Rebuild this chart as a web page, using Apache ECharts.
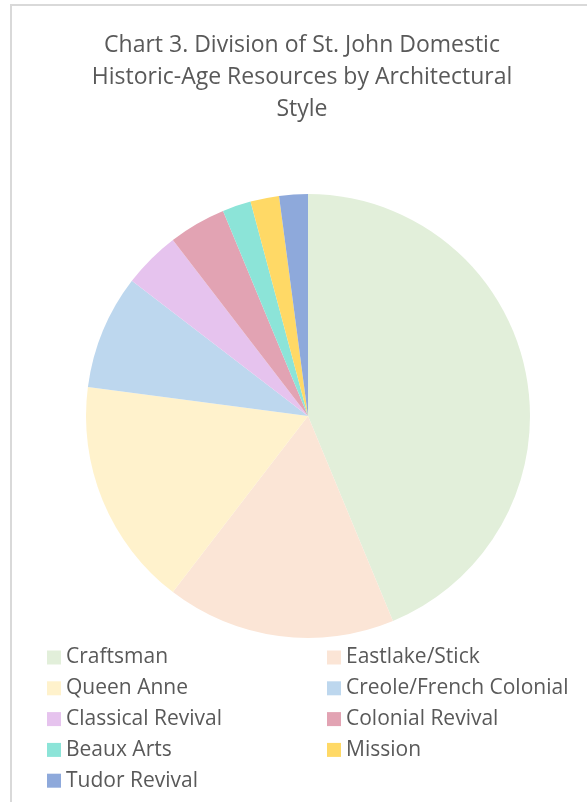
<!DOCTYPE html>
<html>
<head>
<meta charset="utf-8">
<script src="https://cdn.jsdelivr.net/npm/echarts@6/dist/echarts.min.js"></script>
<style>
  html, body { margin: 0; padding: 0; background: #fff; }
  #chart { width: 587px; height: 802px; }
</style>
</head>
<body>
<div id="chart"></div>
<script>
const styles = [
  'Craftsman', 'Eastlake/Stick', 'Queen Anne', 'Creole/French Colonial',
  'Classical Revival', 'Colonial Revival', 'Beaux Arts', 'Mission', 'Tudor Revival',
];
const counts = [21, 8, 8, 4, 2, 2, 1, 1, 1];
const colors = [
  '#E2EFDA', '#FBE5D6', '#FFF2CC', '#BDD7EE',
  '#E6C3EE', '#E2A3B3', '#8CE4D8', '#FFD966', '#8EA9DB',
];

// legend is two columns, filled row by row
const legendBase = {
  orient: 'vertical',
  top: 647,
  padding: 0,
  itemWidth: 14,
  itemHeight: 14,
  itemGap: 9.8,
  icon: 'rect',
  textStyle: {
    fontFamily: 'Open Sans',
    fontSize: 21,
    lineHeight: 19.5,
    color: '#595959',
  },
};

const chart = echarts.init(document.getElementById('chart'));
chart.setOption({
  animation: false,
  color: colors,
  title: {
    text: 'Chart 3. Division of St. John Domestic\nHistoric-Age Resources by Architectural\nStyle',
    left: 302,
    textAlign: 'center',
    top: 29,
    padding: 0,
    textStyle: {
      fontFamily: 'Open Sans',
      fontWeight: 'normal',
      fontSize: 23,
      lineHeight: 32,
      color: '#595959',
    },
  },
  graphic: [{
    type: 'rect',
    shape: { x: 11, y: 5, width: 600, height: 820 },
    style: { fill: 'none', stroke: '#d9d9d9', lineWidth: 2 },
    silent: true,
  }],
  legend: [
    { ...legendBase, left: 47, data: styles.filter((s, i) => i % 2 === 0) },
    { ...legendBase, left: 327, data: styles.filter((s, i) => i % 2 === 1) },
  ],
  series: [{
    type: 'pie',
    center: [308, 416],
    radius: 222,
    startAngle: 90,
    clockwise: true,
    label: { show: false },
    labelLine: { show: false },
    itemStyle: { borderWidth: 0 },
    emphasis: { disabled: true },
    data: styles.map((name, i) => ({ name, value: counts[i] })),
  }],
});
</script>
</body>
</html>
